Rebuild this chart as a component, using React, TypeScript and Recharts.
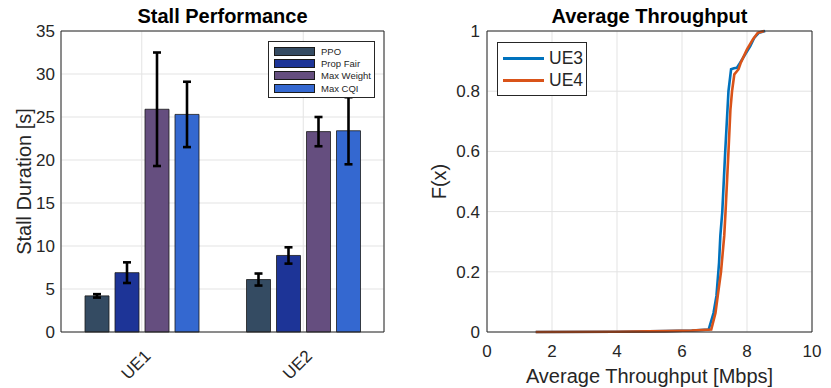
import React from 'react';
import {
  BarChart, Bar, ErrorBar, LineChart, Line, XAxis, YAxis, CartesianGrid, Legend,
} from 'recharts';

// stall duration per UE (mean and error half-range, seconds)
const ues = ['UE1', 'UE2'];
const ppoMean = [4.2, 6.1];
const ppoErr = [0.2, 0.7];
const propFairMean = [6.9, 8.9];
const propFairErr = [1.2, 0.95];
const maxWeightMean = [25.9, 23.3];
const maxWeightErr = [6.6, 1.7];
const maxCqiMean = [25.3, 23.4];
const maxCqiErr = [3.8, 3.9];
const stallTicks = [0, 5, 10, 15, 20, 25, 30, 35];

// empirical CDF of average throughput
const ue3X = [1.5, 4.0, 5.5, 6.3, 6.82, 6.97, 7.06, 7.14, 7.18, 7.24, 7.33, 7.43, 7.51, 7.6, 7.69, 7.79, 7.95, 8.1, 8.22, 8.36, 8.56];
const ue3F = [0, 0.001, 0.003, 0.005, 0.008, 0.063, 0.12, 0.23, 0.32, 0.4, 0.6, 0.8, 0.873, 0.876, 0.878, 0.895, 0.923, 0.95, 0.977, 0.994, 1.0];
const ue4X = [1.5, 4.0, 5.5, 6.3, 6.9, 7.03, 7.1, 7.2, 7.3, 7.34, 7.43, 7.49, 7.54, 7.61, 7.74, 7.81, 8.0, 8.18, 8.33, 8.53];
const ue4F = [0, 0.001, 0.003, 0.005, 0.008, 0.063, 0.12, 0.2, 0.32, 0.4, 0.6, 0.74, 0.8, 0.856, 0.873, 0.895, 0.939, 0.972, 0.994, 1.0];
const tputTicks = [0, 2, 4, 6, 8, 10];
const cdfTicks = [0, 0.2, 0.4, 0.6, 0.8, 1];

const FONT = '"Liberation Sans", Arial, Helvetica, sans-serif';
const INK = '#262626';
const GRID = '#e3e3e3';

const schedulers = [
  { key: 'ppo', name: 'PPO', color: '#344b62' },
  { key: 'propFair', name: 'Prop Fair', color: '#1d3497' },
  { key: 'maxWeight', name: 'Max Weight', color: '#654e7f' },
  { key: 'maxCqi', name: 'Max CQI', color: '#3468d0' },
];

const stallRows = ues.map((ue, i) => ({
  ue,
  ppo: ppoMean[i], ppoErr: ppoErr[i],
  propFair: propFairMean[i], propFairErr: propFairErr[i],
  maxWeight: maxWeightMean[i], maxWeightErr: maxWeightErr[i],
  maxCqi: maxCqiMean[i], maxCqiErr: maxCqiErr[i],
}));

const ue3Data = ue3X.map((x, i) => ({ x, f: ue3F[i] }));
const ue4Data = ue4X.map((x, i) => ({ x, f: ue4F[i] }));
const ueLines = [
  { name: 'UE3', data: ue3Data, color: '#0072bd' },
  { name: 'UE4', data: ue4Data, color: '#d95319' },
];

const tickStyle = { fontSize: 17, fill: INK, fontFamily: FONT };

const Title = ({ viewBox, text }: any) => (
  <text x={viewBox.x + viewBox.width / 2} y={viewBox.y - 7} textAnchor="middle"
    fontSize={20} fontWeight="bold" fill="#000" fontFamily={FONT}>{text}</text>
);

const XTitle = ({ viewBox, text }: any) => (
  <text x={viewBox.x + viewBox.width / 2} y={viewBox.y + 51} textAnchor="middle"
    fontSize={20} fill={INK} fontFamily={FONT}>{text}</text>
);

const YTitle = ({ viewBox, text, bx }: any) => {
  const x = viewBox.x + bx;
  const y = viewBox.y + viewBox.height / 2;
  return (
    <text x={x} y={y} transform={`rotate(-90, ${x}, ${y})`} textAnchor="middle"
      fontSize={20} fill={INK} fontFamily={FONT}>{text}</text>
  );
};

const SlantTick = ({ x, y, payload }: any) => {
  const tx = x + 10;
  const ty = y + 25;
  return (
    <text x={tx} y={ty} transform={`rotate(-45, ${tx}, ${ty})`} textAnchor="end"
      fontSize={17} fill={INK} fontFamily={FONT}>{payload.value}</text>
  );
};

const StallLegend = ({ payload }: any) => (
  <div style={{ border: `1px solid ${INK}`, background: '#fff', padding: '3px 4px 3px 5px', fontFamily: FONT }}>
    {(payload || []).map((p: any) => {
      const s = schedulers.find((d) => d.key === p.dataKey);
      return (
        <div key={p.value} style={{ display: 'flex', alignItems: 'center', height: 12.3, whiteSpace: 'nowrap' }}>
          <span style={{ flex: 'none', width: 39, height: 7, background: s ? s.color : p.color, border: '1px solid #1a1a1a', marginRight: 6 }} />
          <span style={{ fontSize: 9.5, color: INK }}>{p.value}</span>
        </div>
      );
    })}
  </div>
);

const CdfLegend = ({ payload }: any) => (
  <div style={{ border: `1px solid ${INK}`, background: '#fff', padding: '4px 5px', fontFamily: FONT }}>
    {(payload || []).map((p: any) => {
      const l = ueLines.find((d) => d.name === p.value);
      return (
        <div key={p.value} style={{ display: 'flex', alignItems: 'center', height: 22, whiteSpace: 'nowrap' }}>
          <span style={{ flex: 'none', width: 41, height: 3, background: l ? l.color : p.color, marginRight: 5 }} />
          <span style={{ fontSize: 17.5, color: INK }}>{p.value}</span>
        </div>
      );
    })}
  </div>
);

const schedulerOrder = (item: any) => schedulers.findIndex((s) => s.key === item.dataKey);
const lineOrder = (item: any) => ueLines.findIndex((l) => l.name === item.value);

const StallChart = () => (
  <BarChart width={400} height={388} data={stallRows} margin={{ top: 30, right: 15, bottom: 0, left: 0 }} barGap={6}>
    <CartesianGrid stroke={GRID} />
    <XAxis dataKey="ue" height={56} tickLine={false} tickSize={0} tickMargin={0} tick={<SlantTick />}
      axisLine={{ stroke: INK }} />
    <XAxis xAxisId="top" orientation="top" dataKey="ue" height={1} tick={false} tickLine={false}
      axisLine={{ stroke: INK }} label={<Title text="Stall Performance" />} />
    <YAxis width={61} domain={[0, 35]} ticks={stallTicks} type="number" tickLine={false} tickSize={0} tickMargin={6}
      tick={tickStyle} axisLine={{ stroke: INK }}
      label={<YTitle text="Stall Duration [s]" bx={31} />} />
    <YAxis yAxisId="right" orientation="right" width={1} domain={[0, 35]} type="number" tick={false} tickLine={false}
      axisLine={{ stroke: INK }} />
    <Legend layout="horizontal" verticalAlign="middle" align="center" content={<StallLegend />}
      itemSorter={schedulerOrder} wrapperStyle={{ left: 268, top: 41, width: 107, height: 56 }} />
    {schedulers.map((s) => (
      <Bar key={s.key} dataKey={s.key} name={s.name} fill={s.color} stroke="#1a1a1a" strokeWidth={0.8}
        barSize={24} isAnimationActive={false}>
        <ErrorBar dataKey={`${s.key}Err`} width={4} strokeWidth={2.6} stroke="#000" />
      </Bar>
    ))}
  </BarChart>
);

const ThroughputChart = () => (
  <LineChart width={416} height={388} margin={{ top: 30, right: 18, bottom: 0, left: 0 }}>
    <CartesianGrid stroke={GRID} />
    <XAxis dataKey="x" type="number" domain={[0, 10]} ticks={tputTicks} height={56} tickLine={false}
      tickSize={0} tickMargin={13} tick={tickStyle} axisLine={{ stroke: INK }}
      label={<XTitle text="Average Throughput [Mbps]" />} allowDuplicatedCategory={false} />
    <XAxis xAxisId="top" orientation="top" type="number" domain={[0, 10]} height={1} tick={false} tickLine={false}
      axisLine={{ stroke: INK }} label={<Title text="Average Throughput" />} />
    <YAxis width={72} type="number" domain={[0, 1]} ticks={cdfTicks} tickLine={false} tickSize={0} tickMargin={7}
      tick={tickStyle} axisLine={{ stroke: INK }} label={<YTitle text="F(x)" bx={31} />} />
    <YAxis yAxisId="right" orientation="right" width={1} type="number" domain={[0, 1]} tick={false} tickLine={false}
      axisLine={{ stroke: INK }} />
    <Legend layout="horizontal" verticalAlign="middle" align="center" content={<CdfLegend />}
      itemSorter={lineOrder} wrapperStyle={{ left: 82, top: 42, width: 90, height: 51 }} />
    {ueLines.map((l) => (
      <Line key={l.name} data={l.data} dataKey="f" name={l.name} type="linear" stroke={l.color}
        strokeWidth={2.6} dot={false} activeDot={false} isAnimationActive={false} />
    ))}
  </LineChart>
);

export default function App() {
  return (
    <div style={{ position: 'absolute', left: 0, top: 0, width: 831, height: 388, background: '#fff' }}>
      <div style={{ position: 'absolute', left: 0, top: 0 }}>
        <StallChart />
      </div>
      <div style={{ position: 'absolute', left: 415, top: 0 }}>
        <ThroughputChart />
      </div>
    </div>
  );
}
